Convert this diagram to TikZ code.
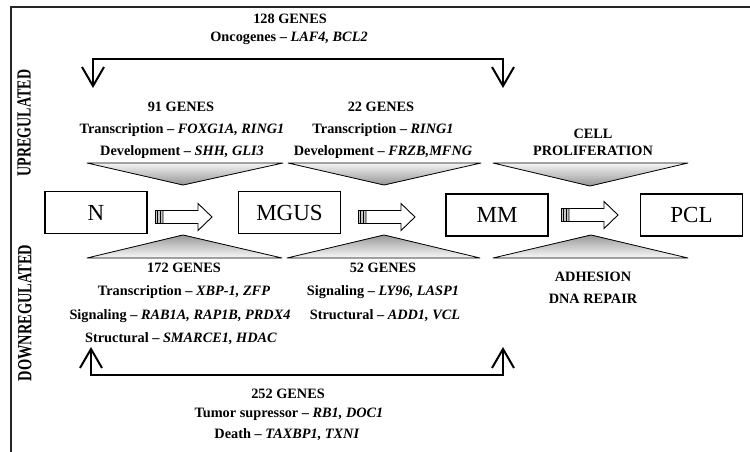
\documentclass[tikz,border=0pt]{standalone}
\usepackage{fontspec}
\setmainfont{Liberation Serif}
\usetikzlibrary{arrows.meta,calc}
\tikzset{
  pics/shiftarrow/.style={code={
    % striped tail followed by a hollow block arrow
    \fill[gray!45] (0,-6.5) rectangle (8,6.5);
    \draw[line width=0.7pt] (0,-6.5) rectangle (8,6.5);
    \draw[line width=0.7pt] (2.7,-6.5) -- (2.7,6.5) (5.3,-6.5) -- (5.3,6.5);
    \draw[line width=0.9pt, fill=white] (8,-6.5) -- (43,-6.5) -- (43,-13.5)
      -- (57,0) -- (43,13.5) -- (43,6.5) -- (8,6.5) -- cycle;
  }}
}
% a triangle that darkens from its base (#1 -- #2) towards its apex (#3)
\newcommand\funnelfill[3]{%
  \foreach \i in {0,...,29}{
    \pgfmathsetmacro\f{1-\i/30}
    \pgfmathtruncatemacro\c{8+72*\i/29}
    \fill[gray!\c] (#3) -- ($(#3)!\f!(#1)$) -- ($(#3)!\f!(#2)$) -- cycle;
  }
  \draw[line width=0.8pt, line join=round] (#1) -- (#2) -- (#3) -- cycle;
}
\begin{document}
\begin{tikzpicture}[x=1pt,y=-1pt,
  lbl/.style={font=\fontsize{14.3}{16}\selectfont\bfseries, inner sep=0pt},
  side/.style={font=\fontsize{20}{22}\selectfont\bfseries, rotate=90, inner sep=0pt},
  stage/.style={draw, line width=1.1pt, minimum width=102pt, minimum height=42pt,
    font=\fontsize{23}{25}\selectfont, inner sep=0pt},
  barb/.tip={Straight Barb[length=19pt,width=22pt,line width=2pt]},
  bracket/.style={line width=2pt, barb-barb},
  frame/.style={draw=gray!30!black, line width=1.5pt}
]
\useasboundingbox (0,0) rectangle (750,452);
\fill[white] (0,0) rectangle (750,452);

% outer frame (top and left edges)
\draw[frame] (11,452) -- (11,7) -- (750,7);

% side headings
\node[side] (up) at (24,123) {\scalebox{0.7}[1]{UPREGULATED}};
\node[side] (down) at (25,313) {\scalebox{0.72}[1]{DOWNREGULATED}};

% funnels above (upregulated) and below (downregulated)
\funnelfill{87,163}{283,163}{183,185}
\funnelfill{288,163}{481,163}{384,185}
\funnelfill{493,163}{688,163}{590,186}
\funnelfill{87,258}{282,258}{183,235}
\funnelfill{287,258}{480,258}{384,235}
\funnelfill{493,258}{688,258}{591,235}

% disease stages
\node[stage] (N) at (96,212.5) {N};
\node[stage] (MGUS) at (289.5,212.5) {MGUS};
\node[stage] (MM) at (497,215) {MM};
\node[stage] (PCL) at (691.5,215) {PCL};

% transitions between stages
\pic at (155,217) {shiftarrow};
\pic at (358,217) {shiftarrow};
\pic at (561,215) {shiftarrow};

% genes up in both N->MGUS and MGUS->MM
\node[lbl] (g128) at (290,19) {128 GENES};
\node[lbl] (onc) at (289,38) {Oncogenes -- \textit{LAF4, BCL2}};
\coordinate (upL) at (93,88);
\coordinate (upR) at (503,88);
\coordinate (upLc) at (93,59);
\coordinate (upRc) at (503,59);
\draw[bracket] (upL) -- (upLc) -- (upRc) -- (upR);

% upregulated per transition
\node[lbl] (g91) at (181,107) {91 GENES};
\node[lbl] (tr91) at (182,130) {Transcription -- \textit{FOXG1A, RING1}};
\node[lbl] (dv91) at (182,152) {Development -- \textit{SHH, GLI3}};
\node[lbl] (g22) at (381,107) {22 GENES};
\node[lbl] (tr22) at (383,130) {Transcription -- \textit{RING1}};
\node[lbl] (dv22) at (383,152) {Development -- \textit{FRZB,MFNG}};
\node[lbl] (cell) at (593,134) {CELL};
\node[lbl] (prol) at (593,151) {PROLIFERATION};

% downregulated per transition
\node[lbl] (g172) at (184,268) {172 GENES};
\node[lbl] (tr172) at (184,292) {Transcription -- \textit{XBP-1, ZFP}};
\node[lbl] (sg172) at (180,316) {Signaling -- \textit{RAB1A, RAP1B, PRDX4}};
\node[lbl] (st172) at (181,339) {Structural -- \textit{SMARCE1, HDAC}};
\node[lbl] (g52) at (383,268) {52 GENES};
\node[lbl] (sg52) at (383,292) {Signaling -- \textit{LY96, LASP1}};
\node[lbl] (st52) at (385,316) {Structural -- \textit{ADD1, VCL}};
\node[lbl] (adh) at (593,277) {ADHESION};
\node[lbl] (dna) at (593,299) {DNA REPAIR};

% genes down in both N->MGUS and MGUS->MM
\coordinate (dnL) at (91,347);
\coordinate (dnR) at (503,347);
\coordinate (dnLc) at (91,375);
\coordinate (dnRc) at (503,375);
\draw[bracket] (dnL) -- (dnLc) -- (dnRc) -- (dnR);
\node[lbl] (g252) at (288,394) {252 GENES};
\node[lbl] (tsup) at (289,414) {Tumor supressor -- \textit{RB1, DOC1}};
\node[lbl] (death) at (287,435) {Death -- \textit{TAXBP1, TXNI}};
\end{tikzpicture}
\end{document}
